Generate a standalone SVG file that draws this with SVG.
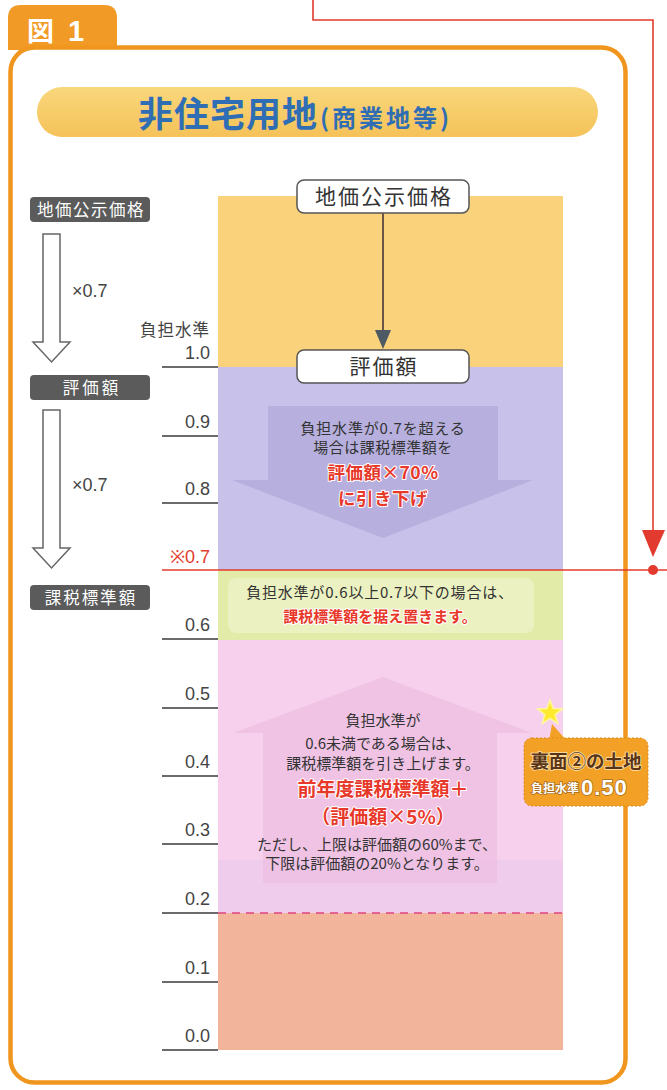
<svg xmlns="http://www.w3.org/2000/svg" width="667" height="1090" viewBox="0 0 667 1090">
<defs>
<style>
.jp{font-family:"Noto Sans CJK JP","Noto Sans",sans-serif;}
.num{font-family:"Liberation Sans","DejaVu Sans",sans-serif;}
.tick{stroke:#3a3a3a;stroke-width:1.3;}
.lbl{font-family:"Liberation Sans",sans-serif;font-size:18px;fill:#444;text-anchor:end;}
.gbox{fill:#5b5b5b;}
.gtxt{font-family:"Noto Sans CJK JP",sans-serif;font-size:16.5px;fill:#fff;text-anchor:middle;}
.wbox{fill:#fff;stroke:#555;stroke-width:1.5;}
.wtxt{font-family:"Noto Sans CJK JP",sans-serif;font-size:21px;fill:#333;text-anchor:middle;letter-spacing:2px;}
.body{font-family:"Noto Sans CJK JP",sans-serif;font-size:15px;fill:#333;text-anchor:middle;}
.red{font-family:"Noto Sans CJK JP",sans-serif;font-weight:bold;fill:#E8382A;text-anchor:middle;stroke:#fff;stroke-width:2px;paint-order:stroke;stroke-linejoin:round;}
.harrow{fill:#fff;stroke:#666;stroke-width:1.5;}
.rline{stroke:#E23A2E;stroke-width:1.6;fill:none;}
</style>
<linearGradient id="pill" x1="0" y1="0" x2="0" y2="1">
<stop offset="0" stop-color="#F9D77C"/>
<stop offset="1" stop-color="#F5C258"/>
</linearGradient>
</defs>

<rect width="667" height="1090" fill="#fff"/>

<!-- frame & tab -->
<g id="frame">
<path d="M8,50 V18 Q8,5 21,5 H104 Q117,5 117,18 V50 Z" fill="#F29A26"/>
<text x="27" y="41" font-family="Noto Sans CJK JP,sans-serif" font-size="27" font-weight="bold" fill="#fff">図</text>
<text x="68" y="41" font-family="Liberation Sans,sans-serif" font-size="29" font-weight="bold" fill="#fff">1</text>
<rect x="10.5" y="47.5" width="615" height="1035" rx="24" fill="#fff" stroke="#F0961E" stroke-width="4.5"/>
</g>

<!-- title -->
<g id="title">
<rect x="37" y="87" width="561" height="50" rx="25" fill="url(#pill)"/>
<text x="138" y="127" class="jp" fill="#2F6DB5" font-weight="bold"><tspan font-size="35" letter-spacing="1">非住宅用地</tspan><tspan font-size="24" letter-spacing="3" dx="2">(商業地等)</tspan></text>
</g>

<!-- bands -->
<g id="bands">
<rect x="218" y="196" width="345" height="171" fill="#F9D27B"/>
<rect x="218" y="367" width="345" height="203" fill="#C8C1EA"/>
<polygon points="268,406 498,406 498,480 533,480 383,538 232,480 268,480" fill="#B4ADDC" opacity="0.85"/>
<rect x="218" y="570" width="345" height="70" fill="#E2EBA7"/>
<rect x="228" y="578" width="306" height="55" rx="8" fill="#fff" opacity="0.3"/>
<rect x="218" y="640" width="345" height="273" fill="#F6D0EC"/>
<rect x="218" y="860" width="345" height="53" fill="#EFCBEC"/>
<polygon points="383,677 532,733 497,733 497,883 263,883 263,733 233,733" fill="#EEBFE1" opacity="0.75"/>
<rect x="218" y="913" width="345" height="137" fill="#F2B49B"/>
<line x1="218" y1="913" x2="563" y2="913" stroke="#E0457F" stroke-width="1.6" stroke-dasharray="8,6"/>
</g>

<!-- scale -->
<g id="scale">
<text x="210" y="336" class="jp" font-size="16.5" fill="#444" text-anchor="end" letter-spacing="1">負担水準</text>
<line class="tick" x1="162" y1="367" x2="218" y2="367"/><text class="lbl" x="210" y="359">1.0</text>
<line class="tick" x1="162" y1="436" x2="218" y2="436"/><text class="lbl" x="210" y="428">0.9</text>
<line class="tick" x1="162" y1="503" x2="218" y2="503"/><text class="lbl" x="210" y="495">0.8</text>
<text x="210" y="563" class="lbl" style="fill:#E23A2E">※0.7</text>
<line class="tick" x1="162" y1="639" x2="218" y2="639"/><text class="lbl" x="210" y="631">0.6</text>
<line class="tick" x1="162" y1="708" x2="218" y2="708"/><text class="lbl" x="210" y="700">0.5</text>
<line class="tick" x1="162" y1="776" x2="218" y2="776"/><text class="lbl" x="210" y="768">0.4</text>
<line class="tick" x1="162" y1="844" x2="218" y2="844"/><text class="lbl" x="210" y="836">0.3</text>
<line class="tick" x1="162" y1="913" x2="218" y2="913"/><text class="lbl" x="210" y="905">0.2</text>
<line class="tick" x1="162" y1="982" x2="218" y2="982"/><text class="lbl" x="210" y="974">0.1</text>
<line class="tick" x1="162" y1="1050" x2="218" y2="1050"/><text class="lbl" x="210" y="1042">0.0</text>
</g>

<!-- left column nodes -->
<g id="left-kouji">
<rect class="gbox" x="30" y="197" width="120" height="25" rx="4"/>
<text class="gtxt" x="91" y="215.5" letter-spacing="1.5">地価公示価格</text>
</g>
<g id="left-hyoka">
<rect class="gbox" x="30" y="375" width="120" height="25" rx="4"/>
<text class="gtxt" x="92" y="393.5" letter-spacing="3">評価額</text>
</g>
<g id="left-kazei">
<rect class="gbox" x="30" y="585" width="120" height="25" rx="4"/>
<text class="gtxt" x="91" y="603.5" letter-spacing="2">課税標準額</text>
</g>

<!-- center nodes -->
<g id="center-kouji">
<rect class="wbox" x="297" y="180" width="172" height="33" rx="7"/>
<text class="wtxt" x="384" y="204">地価公示価格</text>
</g>
<g id="center-hyoka">
<rect class="wbox" x="297" y="350" width="172" height="33" rx="7"/>
<text class="wtxt" x="384" y="374">評価額</text>
</g>

<!-- texts in bands -->
<g id="note-over07">
<text class="body" x="383" y="434" letter-spacing="0.8">負担水準が0.7を超える</text>
<text class="body" x="383" y="453" letter-spacing="0.5">場合は課税標準額を</text>
<text class="red" x="383" y="479" font-size="17.5" letter-spacing="0.5">評価額×70%</text>
<text class="red" x="383" y="505" font-size="17.5" letter-spacing="0.5">に引き下げ</text>
</g>
<g id="note-06-07">
<text class="body" x="380" y="598" letter-spacing="0.8">負担水準が0.6以上0.7以下の場合は、</text>
<text class="red" x="380" y="622" font-size="15" stroke-width="2">課税標準額を据え置きます。</text>
</g>
<g id="note-under06">
<text class="body" x="383" y="726">負担水準が</text>
<text class="body" x="383" y="749">0.6未満である場合は、</text>
<text class="body" x="383" y="769">課税標準額を引き上げます。</text>
<text class="red" x="383" y="796" font-size="19">前年度課税標準額＋</text>
<text class="red" x="383" y="824" font-size="19">（評価額×5%）</text>
<text class="body" x="377" y="850" font-size="14">ただし、上限は評価額の60%まで、</text>
<text class="body" x="377" y="869" font-size="14">下限は評価額の20%となります。</text>
</g>

<!-- badge -->
<g id="badge">
<polygon points="549,741 567,741 552,724" fill="#F3A126"/>
<rect x="524" y="738" width="124" height="68" rx="8" fill="#F3A126" stroke="#D98A1A" stroke-width="1" stroke-dasharray="2,2"/>
<polygon points="550,700 553.2,708.6 562.4,709 555.2,714.6 557.7,723.4 550,718.3 542.3,723.4 544.8,714.6 537.6,709 546.8,708.6" fill="#FFEA2E" stroke="#FFF6A0" stroke-width="1.5"/>
<text x="586" y="768" class="jp" font-size="18.5" font-weight="bold" fill="#5A3415" text-anchor="middle" stroke="#FBE3B0" stroke-width="1.5" paint-order="stroke">裏面②の土地</text>
<text x="531" y="793" class="jp" font-size="12" font-weight="bold" fill="#fff" stroke="#A86A1A" stroke-width="1.5" paint-order="stroke">負担水準</text>
<text x="581" y="795" class="num" font-size="22" font-weight="bold" fill="#fff" letter-spacing="1" stroke="#A86A1A" stroke-width="1.5" paint-order="stroke">0.50</text>
</g>

<!-- connectors -->
<g id="connectors">
<polygon class="harrow" points="43,234 60,234 60,342 70,342 51.5,362 33,342 43,342"/>
<text x="72" y="297" class="num" font-size="18" fill="#444">×0.7</text>
<polygon class="harrow" points="43,410 60,410 60,548 70,548 51.5,568 33,548 43,548"/>
<text x="72" y="491" class="num" font-size="18" fill="#444">×0.7</text>
<line x1="383" y1="213" x2="383" y2="332" stroke="#6A5548" stroke-width="2"/>
<polygon points="375,330 391,330 383,349" fill="#4D5A63"/>
<path class="rline" d="M313,0 V20 H653 V532"/>
<polygon points="642,530 665,530 653,557" fill="#E23A2E"/>
<line class="rline" x1="162" y1="570" x2="667" y2="570"/>
<circle cx="653" cy="570" r="5" fill="#E23A2E"/>
</g>
</svg>
